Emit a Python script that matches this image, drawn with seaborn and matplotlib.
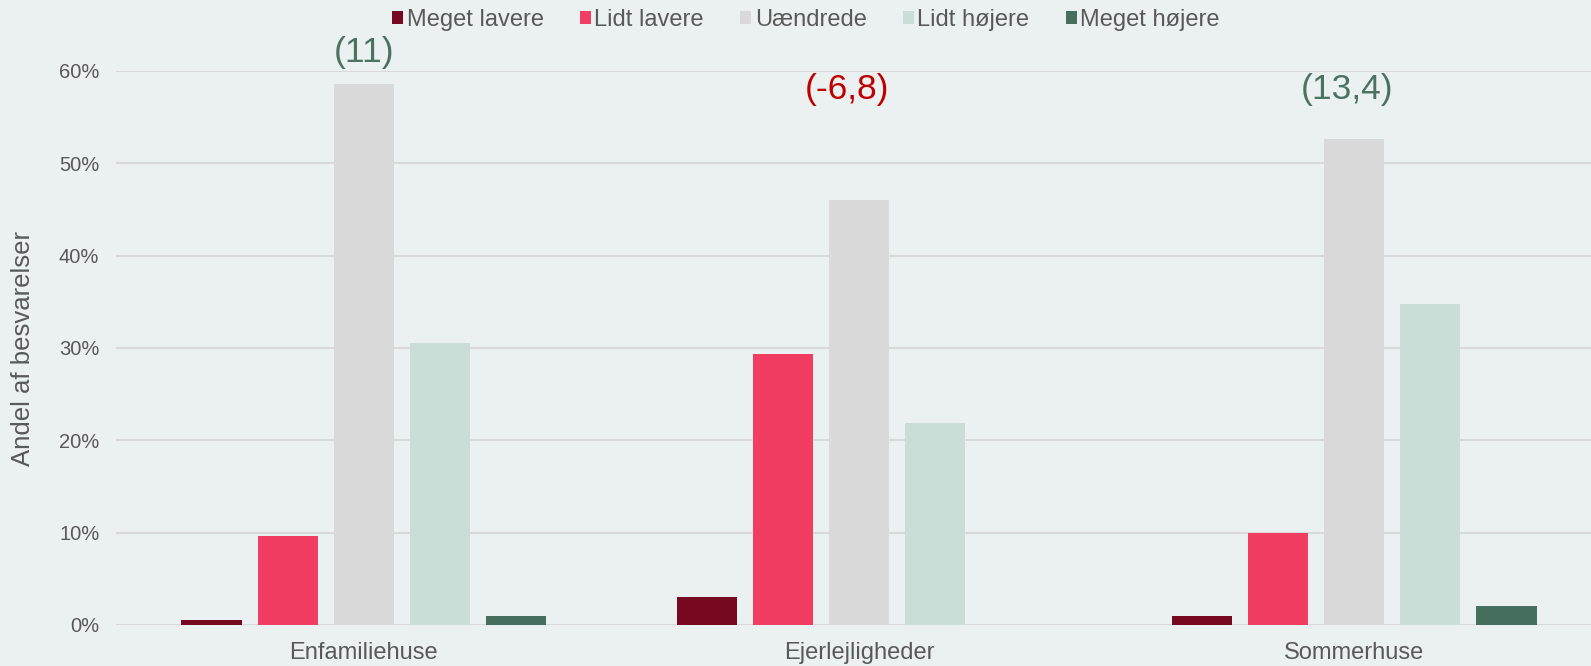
import matplotlib
matplotlib.use("Agg")
import matplotlib.pyplot as plt
import matplotlib.patches as mpatches
from matplotlib.ticker import PercentFormatter, MultipleLocator
import seaborn as sns
import pandas as pd

categories = ["Enfamiliehuse", "Ejerlejligheder", "Sommerhuse"]
series = ["Meget lavere", "Lidt lavere", "Uændrede", "Lidt højere", "Meget højere"]
meget_lavere = [0.5, 3.0, 1.0]
lidt_lavere = [9.6, 29.4, 10.0]
uaendrede = [58.6, 46.0, 52.6]
lidt_hoejere = [30.5, 21.9, 34.8]
meget_hoejere = [1.0, 0.0, 2.1]
net_labels = ["(11)", "(-6,8)", "(13,4)"]
net_values = [11.0, -6.8, 13.4]

colors = ["#76091F", "#F23D63", "#D9D9D9", "#CADDD7", "#466F5E"]
bg = "#EBF1F0"
txt = "#595959"

rows = []
for s, vals in zip(series, [meget_lavere, lidt_lavere, uaendrede, lidt_hoejere, meget_hoejere]):
    for c, v in zip(categories, vals):
        rows.append({"Kategori": c, "Serie": s, "Andel": v / 100})
df = pd.DataFrame(rows)

sns.set_theme(style="white")
plt.rcParams["font.family"] = ["Liberation Sans", "DejaVu Sans"]

W, H = 1591, 666
fig = plt.figure(figsize=(W / 100, H / 100), dpi=100)
fig.patch.set_facecolor(bg)
ax = fig.add_axes([116 / W, (H - 625) / H, (1602 - 116) / W, (625 - 71) / H])
ax.set_facecolor(bg)

sns.barplot(data=df, x="Kategori", y="Andel", hue="Serie", order=categories,
            hue_order=series, palette=colors, width=0.768, gap=0.21,
            dodge=True, saturation=1, ax=ax, legend=False, zorder=3,
            edgecolor="none", linewidth=0)

ax.set_ylim(0, 0.6)
ax.set_xlim(-0.5, 2.5)
ax.yaxis.set_major_locator(MultipleLocator(0.1))
ax.yaxis.set_major_formatter(PercentFormatter(1.0, decimals=0))
ax.grid(axis="y", color="#D9D9D9", linewidth=1.5, zorder=0)
ax.set_axisbelow(True)
for sp in ax.spines.values():
    sp.set_visible(False)
ax.tick_params(axis="both", length=0, labelcolor=txt)
ax.tick_params(axis="y", pad=12, labelsize=14.5)
ax.tick_params(axis="x", pad=12, labelsize=17)
ax.set_xlabel("")
ax.set_ylabel("Andel af besvarelser", fontsize=18.5, color=txt, labelpad=17)

# net balance annotations
label_dx = [0.0, -0.024, -0.014]
label_y = [0.62, 0.58, 0.58]
for i, (dx, y, lab, v) in enumerate(zip(label_dx, label_y, net_labels, net_values)):
    ax.text(i + dx, y, lab, ha="center", va="center", fontsize=25.5,
            color="#C00000" if v < 0 else "#4A7361", clip_on=False)

handles = [mpatches.Patch(facecolor=c, edgecolor="none", label=s) for s, c in zip(series, colors)]
leg = fig.legend(handles=handles, loc="center", bbox_to_anchor=(806 / W, 1 - 20 / H),
                 ncol=5, frameon=False, fontsize=17, handlelength=0.45, handleheight=0.45,
                 handletextpad=0.15, columnspacing=1.55, borderaxespad=0)
for t in leg.get_texts():
    t.set_color(txt)

fig.savefig("out.png", dpi=100, facecolor=bg)
